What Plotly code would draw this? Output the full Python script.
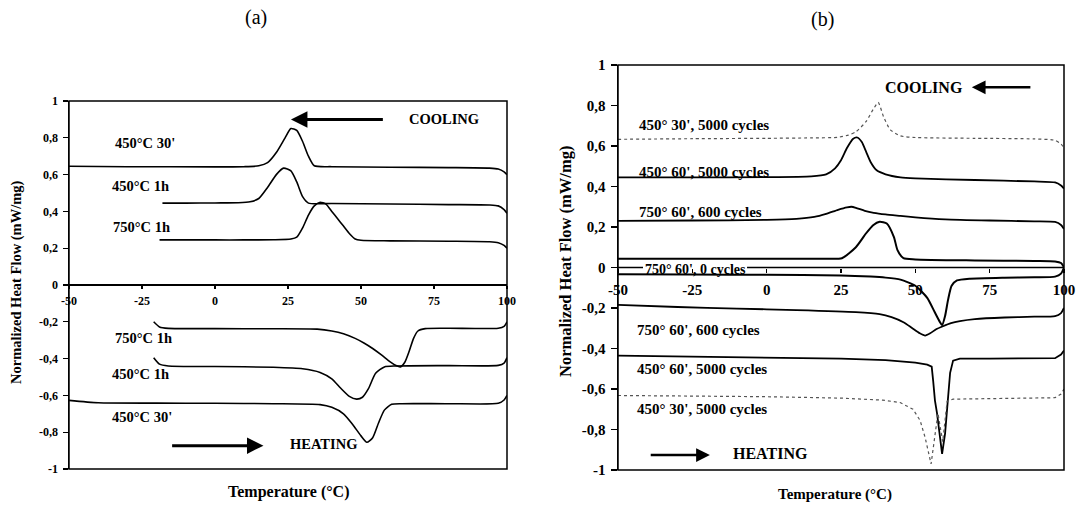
import plotly.graph_objects as go

W, H = 1078, 505
FONT = "Liberation Serif"

# ---------------- axis ticks ----------------
X_RANGE = [-50, 100]
Y_RANGE = [-1, 1]
X_TICKS = [-50, -25, 0, 25, 50, 75, 100]
X_TICKTEXT = ["-50", "-25", "0", "25", "50", "75", "100"]
Y_TICKS = [1, 0.8, 0.6, 0.4, 0.2, 0, -0.2, -0.4, -0.6, -0.8, -1]
Y_TICKTEXT = ["1", "0,8", "0,6", "0,4", "0,2", "0", "-0,2", "-0,4", "-0,6", "-0,8", "-1"]

# ---------------- panel (a) data ----------------
a_cool_450_30_x = [-50, -30, 0, 10, 15, 18, 21, 24, 26, 28, 30, 32, 34, 40, 60, 80, 94, 97, 99, 100]
a_cool_450_30_y = [0.645, 0.643, 0.642, 0.643, 0.648, 0.665, 0.72, 0.80, 0.85, 0.84, 0.78, 0.70, 0.648, 0.643, 0.64, 0.638, 0.635, 0.63, 0.615, 0.60]

a_cool_450_1h_x = [-18, -10, 0, 8, 12, 15, 18, 21, 23.5, 26, 28, 30, 32, 40, 60, 80, 94, 97, 99, 100]
a_cool_450_1h_y = [0.445, 0.445, 0.446, 0.447, 0.452, 0.47, 0.53, 0.60, 0.635, 0.62, 0.56, 0.48, 0.445, 0.443, 0.44, 0.437, 0.435, 0.43, 0.41, 0.39]

a_cool_750_1h_x = [-19, -10, 0, 10, 20, 26, 28, 30, 32, 34, 36, 38, 40, 42, 44, 46, 48, 50, 60, 80, 94, 97, 99, 100]
a_cool_750_1h_y = [0.245, 0.245, 0.245, 0.245, 0.246, 0.25, 0.26, 0.31, 0.38, 0.43, 0.45, 0.44, 0.40, 0.36, 0.32, 0.28, 0.25, 0.243, 0.24, 0.238, 0.235, 0.23, 0.215, 0.20]

a_heat_750_1h_x = [-21, -19, -16, 0, 20, 35, 40, 44, 48, 51, 54, 57, 60, 62, 63.5, 65, 66.5, 68, 69.5, 72, 80, 97, 99, 100]
a_heat_750_1h_y = [-0.20, -0.228, -0.236, -0.237, -0.238, -0.24, -0.25, -0.265, -0.29, -0.315, -0.345, -0.38, -0.418, -0.438, -0.445, -0.42, -0.36, -0.29, -0.25, -0.237, -0.235, -0.235, -0.225, -0.20]

a_heat_450_1h_x = [-21, -19, -16, 0, 20, 30, 36, 40, 43, 46, 48.5, 50.5, 52.5, 55, 58, 62, 80, 97, 99, 100]
a_heat_450_1h_y = [-0.395, -0.43, -0.44, -0.443, -0.447, -0.455, -0.475, -0.51, -0.56, -0.605, -0.62, -0.61, -0.565, -0.48, -0.445, -0.44, -0.438, -0.437, -0.425, -0.395]

a_heat_450_30_x = [-50, -40, -20, 0, 20, 36, 40, 44, 47, 50, 52, 54, 56, 58, 60.5, 64, 80, 97, 99, 100]
a_heat_450_30_y = [-0.627, -0.64, -0.642, -0.643, -0.645, -0.65, -0.665, -0.70, -0.755, -0.82, -0.855, -0.83, -0.75, -0.68, -0.648, -0.645, -0.645, -0.643, -0.625, -0.60]

# ---------------- panel (b) data ----------------
b_cool_450_30_x = [-50, -25, 0, 15, 24, 27.5, 30, 33.4, 35.8, 37.5, 39.3, 41.6, 45, 50, 70, 90, 97, 99, 100]
b_cool_450_30_y = [0.633, 0.636, 0.638, 0.64, 0.643, 0.654, 0.67, 0.72, 0.78, 0.815, 0.745, 0.68, 0.65, 0.642, 0.638, 0.635, 0.628, 0.61, 0.59]

b_cool_450_60_x = [-50, -25, 0, 15, 20, 23, 25, 27, 29, 30.5, 32, 33.5, 35, 37, 40, 45, 50, 70, 90, 97, 99, 100]
b_cool_450_60_y = [0.445, 0.445, 0.446, 0.45, 0.46, 0.49, 0.53, 0.59, 0.635, 0.642, 0.62, 0.57, 0.52, 0.48, 0.46, 0.445, 0.44, 0.432, 0.425, 0.42, 0.405, 0.39]

b_cool_750_600_x = [-50, -25, 0, 10, 16, 20, 24, 27, 28.5, 30, 33, 36, 40, 45, 50, 60, 75, 90, 97, 99, 100]
b_cool_750_600_y = [0.23, 0.232, 0.235, 0.24, 0.25, 0.265, 0.285, 0.297, 0.30, 0.295, 0.28, 0.27, 0.262, 0.255, 0.248, 0.238, 0.232, 0.228, 0.225, 0.21, 0.19]

b_cool_750_0_x = [-50, -25, 0, 20, 25.3, 30, 33.4, 35.8, 38, 40.4, 42.8, 44, 46, 50, 70, 90, 97, 99, 100]
b_cool_750_0_y = [0.043, 0.043, 0.043, 0.043, 0.046, 0.10, 0.168, 0.209, 0.226, 0.217, 0.15, 0.086, 0.046, 0.04, 0.035, 0.032, 0.03, 0.022, 0.0]

b_heat_750_0_x = [-50, -25, 0, 25, 35, 40, 45, 50, 54, 56.5, 58.3, 59, 60, 61, 62.2, 64, 68.4, 80, 90, 97, 99, 100]
b_heat_750_0_y = [-0.033, -0.035, -0.036, -0.04, -0.045, -0.05, -0.06, -0.09, -0.15, -0.22, -0.27, -0.285, -0.24, -0.16, -0.09, -0.064, -0.055, -0.05, -0.048, -0.045, -0.03, 0.0]

b_heat_750_600_x = [-50, -30, -10, 10, 30, 38, 42, 46, 49, 51.5, 53.3, 55, 57, 59.3, 62, 65, 70, 80, 90, 97, 99, 100]
b_heat_750_600_y = [-0.185, -0.195, -0.203, -0.21, -0.22, -0.23, -0.245, -0.27, -0.30, -0.325, -0.336, -0.325, -0.305, -0.29, -0.275, -0.265, -0.255, -0.247, -0.243, -0.24, -0.225, -0.20]

b_heat_450_60_x = [-50, -25, 0, 25, 40, 50, 54, 55.5, 56, 56.6, 57.3, 58.3, 59, 60, 61, 61.7, 62.7, 65, 75, 90, 97, 99, 100]
b_heat_450_60_y = [-0.435, -0.44, -0.445, -0.45, -0.457, -0.47, -0.48, -0.49, -0.56, -0.657, -0.72, -0.85, -0.92, -0.82, -0.65, -0.52, -0.46, -0.45, -0.45, -0.45, -0.448, -0.43, -0.41]

b_heat_450_30_x = [-50, -25, 0, 25, 39, 44.9, 49.2, 51.6, 53.3, 55.3, 56, 57.3, 57.6, 59.2, 60.7, 62.7, 75, 90, 97, 99, 100]
b_heat_450_30_y = [-0.632, -0.635, -0.638, -0.645, -0.655, -0.667, -0.70, -0.755, -0.84, -0.97, -0.89, -0.755, -0.72, -0.86, -0.66, -0.65, -0.647, -0.645, -0.643, -0.625, -0.60]

# ---------------- labels ----------------
a_labels = ["450°C 30'", "450°C 1h", "750°C 1h", "750°C 1h", "450°C 1h", "450°C 30'"]
a_label_x = [-35, -36, -35.6, -35, -36, -36]
a_label_y = [0.77, 0.538, 0.317, -0.29, -0.485, -0.718]

b_labels = ["450° 30', 5000 cycles", "450° 60', 5000 cycles", "750° 60', 600 cycles",
            "750° 60', 600 cycles", "450° 60', 5000 cycles", "450° 30', 5000 cycles"]
b_label_x = [-43.6, -43.6, -43.6, -44.2, -44.2, -44.2]
b_label_y = [0.703, 0.473, 0.272, -0.309, -0.503, -0.70]
b_zero_label = "750° 60', 0 cycles"
b_zero_label_x = [-41.6, -6.6]   # left/right extent of the label on the zero line


# ---------------- layout geometry (page pixels -> paper fractions) ----------------
def px(x):
    return x / W


def py(y):
    return 1 - y / H


A_XDOM = [px(69), px(507)]
A_YDOM = [py(469), py(101)]
B_XDOM = [px(618), px(1064)]
B_YDOM = [py(470), py(65)]


def zero_pos(dom):
    return dom[0] + (0 - Y_RANGE[0]) / (Y_RANGE[1] - Y_RANGE[0]) * (dom[1] - dom[0])


fig = go.Figure()


def add(xs, ys, xa, ya, width=1.6, color="black", dash="solid", shape="spline"):
    fig.add_trace(go.Scatter(
        x=xs, y=ys, xaxis=xa, yaxis=ya, mode="lines",
        line=dict(color=color, width=width, dash=dash, shape=shape,
                  smoothing=0.6 if shape == "spline" else None),
        hoverinfo="skip", showlegend=False))


add(a_cool_450_30_x, a_cool_450_30_y, "x", "y")
add(a_cool_450_1h_x, a_cool_450_1h_y, "x", "y")
add(a_cool_750_1h_x, a_cool_750_1h_y, "x", "y")
add(a_heat_750_1h_x, a_heat_750_1h_y, "x", "y")
add(a_heat_450_1h_x, a_heat_450_1h_y, "x", "y")
add(a_heat_450_30_x, a_heat_450_30_y, "x", "y")

add(b_cool_450_30_x, b_cool_450_30_y, "x2", "y2", width=1.2, color="#555555", dash="dot")
add(b_cool_450_60_x, b_cool_450_60_y, "x2", "y2", width=1.8)
add(b_cool_750_600_x, b_cool_750_600_y, "x2", "y2", width=1.8)
add(b_cool_750_0_x, b_cool_750_0_y, "x2", "y2", width=2)
add(b_heat_750_0_x, b_heat_750_0_y, "x2", "y2", width=2)
add(b_heat_750_600_x, b_heat_750_600_y, "x2", "y2", width=1.8)
add(b_heat_450_60_x, b_heat_450_60_y, "x2", "y2", width=1.8, shape="linear")
add(b_heat_450_30_x, b_heat_450_30_y, "x2", "y2", width=1.2, color="#555555", dash="dot", shape="linear")


def xaxis(dom, ydom, size, ticklen, standoff):
    return dict(domain=dom, range=X_RANGE, anchor="free", position=zero_pos(ydom),
                tickvals=X_TICKS, ticktext=X_TICKTEXT, ticks="outside", ticklen=ticklen,
                tickcolor="black", tickwidth=1.2, ticklabelstandoff=standoff,
                showline=False, showgrid=False, zeroline=False, automargin=False,
                tickfont=dict(family=FONT, size=size, color="black", weight="bold"))


def yaxis(dom, anchor, size, ticklen, zeroline):
    return dict(domain=dom, range=Y_RANGE, anchor=anchor,
                tickvals=Y_TICKS, ticktext=Y_TICKTEXT, ticks="outside", ticklen=ticklen,
                tickcolor="black", tickwidth=1.2, ticklabelstandoff=2, automargin=False,
                showline=True, linecolor="black", linewidth=1.5,
                showgrid=False, zeroline=zeroline, zerolinecolor="black", zerolinewidth=1.5,
                tickfont=dict(family=FONT, size=size, color="black", weight="bold"))


fig.update_layout(
    width=W, height=H, autosize=False,
    margin=dict(l=0, r=0, t=0, b=0, pad=0, autoexpand=False),
    paper_bgcolor="white", plot_bgcolor="white",
    xaxis=xaxis(A_XDOM, A_YDOM, 12, 3, 2),
    yaxis=yaxis(A_YDOM, "x", 12, 5, True),
    xaxis2=xaxis(B_XDOM, B_YDOM, 15, 4, 4),
    yaxis2=yaxis(B_YDOM, "x2", 15, 6, False),
)

# frames
for xr, yr in (("x domain", "y domain"), ("x2 domain", "y2 domain")):
    fig.add_shape(type="rect", xref=xr, yref=yr, x0=0, x1=1, y0=0, y1=1,
                  line=dict(color="black", width=1.5), layer="above")

# zero line of panel (b), interrupted by the "0 cycles" label
for xa, xb in ((X_RANGE[0], b_zero_label_x[0]), (b_zero_label_x[1], X_RANGE[1])):
    fig.add_shape(type="line", xref="x2", yref="y2", x0=xa, x1=xb, y0=0, y1=0,
                  line=dict(color="black", width=1.5), layer="below")

ann = []
bold = lambda s: dict(family=FONT, size=s, color="black", weight="bold")

for t, x, y in zip(a_labels, a_label_x, a_label_y):
    ann.append(dict(text=t, x=x, y=y, xref="x", yref="y", xanchor="left", yanchor="middle",
                    showarrow=False, font=bold(14.5)))
for t, x, y in zip(b_labels, b_label_x, b_label_y):
    ann.append(dict(text=t, x=x, y=y, xref="x2", yref="y2", xanchor="left", yanchor="middle",
                    showarrow=False, font=bold(15)))
ann.append(dict(text=b_zero_label, x=b_zero_label_x[0], y=-0.01, xref="x2", yref="y2", xanchor="left",
                yanchor="middle", showarrow=False, font=bold(14)))

# COOLING / HEATING with arrows
ann += [
    dict(text="COOLING", x=78.5, y=0.9, xref="x", yref="y", showarrow=False, font=bold(14.5)),
    dict(text="", x=26, y=0.9, ax=58, ay=0.9, xref="x", yref="y", axref="x", ayref="y",
         showarrow=True, arrowhead=2, arrowsize=1.1, arrowwidth=3, arrowcolor="black"),
    dict(text="HEATING", x=37, y=-0.864, xref="x", yref="y", showarrow=False, font=bold(14.5)),
    dict(text="", x=16.6, y=-0.873, ax=-15.2, ay=-0.873, xref="x", yref="y", axref="x", ayref="y",
         showarrow=True, arrowhead=2, arrowsize=1.1, arrowwidth=3, arrowcolor="black"),
    dict(text="COOLING", x=53, y=0.89, xref="x2", yref="y2", showarrow=False, font=bold(16)),
    dict(text="", x=69, y=0.89, ax=89.2, ay=0.89, xref="x2", yref="y2", axref="x2", ayref="y2",
         showarrow=True, arrowhead=2, arrowsize=1.1, arrowwidth=2.5, arrowcolor="black"),
    dict(text="HEATING", x=1.3, y=-0.92, xref="x2", yref="y2", showarrow=False, font=bold(16)),
    dict(text="", x=-19.1, y=-0.926, ax=-39.5, ay=-0.926, xref="x2", yref="y2", axref="x2", ayref="y2",
         showarrow=True, arrowhead=2, arrowsize=1.1, arrowwidth=2.5, arrowcolor="black"),
]

# axis titles and panel titles (paper coordinates, centred)
pap = dict(xref="paper", yref="paper", xanchor="center", yanchor="middle", showarrow=False)
ann += [
    dict(text="Temperature (°C)", x=(A_XDOM[0] + A_XDOM[1]) / 2, y=py(492), font=bold(16), **pap),
    dict(text="Temperature (°C)", x=px(835), y=py(494), font=bold(15), **pap),
    dict(text="Normalized Heat Flow (mW/mg)", x=px(16), y=py(282), textangle=-90, font=bold(14.5), **pap),
    dict(text="Normalized Heat Flow (mW/mg)", x=px(565), y=py(262), textangle=-90, font=bold(16.5), **pap),
    dict(text="(a)", x=px(256), y=py(17), font=dict(family=FONT, size=20, color="black"), **pap),
    dict(text="(b)", x=px(822), y=py(19), font=dict(family=FONT, size=20, color="black"), **pap),
]
fig.update_layout(annotations=ann)

# the page's default body margin would shift the fixed-size figure; remove it
fig.write_html("out.html",
               config={"displayModeBar": False, "staticPlot": True},
               post_script="document.body.style.margin='0';document.body.style.overflow='hidden';")
